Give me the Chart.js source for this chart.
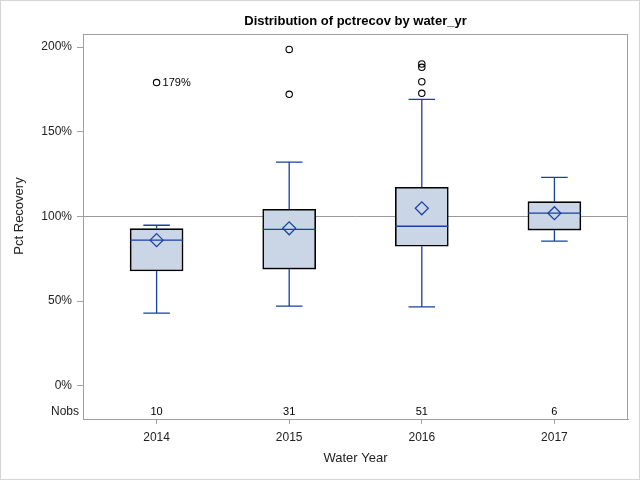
<!DOCTYPE html>
<html>
<head>
<meta charset="utf-8">
<script src="https://cdn.jsdelivr.net/npm/chart.js@4/dist/chart.umd.min.js"></script>
<style>
    html, body { margin: 0; padding: 0; background: #fff; }
    canvas { display: block; }
</style>
</head>
<body>
<canvas id="chart" width="640" height="480"></canvas>
<script>
// values (pct recovery, %)
const CATEGORIES = ['2014', '2015', '2016', '2017'];
const NOBS = [10, 31, 51, 6];
const WHISKER_LO = [42.9, 47.0, 46.6, 85.4];
const Q1 = [67.8, 68.9, 82.4, 91.9];
const MEDIAN = [86.0, 92.4, 94.2, 101.9];
const MEAN = [86.0, 93.0, 104.8, 101.9];
const Q3 = [92.8, 104.2, 117.2, 108.7];
const WHISKER_HI = [94.8, 132.0, 169.1, 123.1];
const OUTLIERS = [[179], [198.6, 172.1], [190.0, 188.0, 179.5, 172.7], []];
const LABELLED_OUTLIERS = [{ cat: 0, value: 179 }];
const Y_TICKS = [0, 50, 100, 150, 200];
const REF_VALUE = 100;

const BLUE = '#1740a3';
const FRAME = '#a0a0a0';
const TEXT = '#222';
const FONT = '"Liberation Sans", Arial, sans-serif';
const BOX_HALF = 0.2;
const CAP_HALF = 0.1;

const segments = [];
CATEGORIES.forEach((c, i) => {
    const gap = { x: i, y: null };
    segments.push({ x: i, y: Q3[i] }, { x: i, y: WHISKER_HI[i] }, gap);
    segments.push({ x: i - CAP_HALF, y: WHISKER_HI[i] }, { x: i + CAP_HALF, y: WHISKER_HI[i] }, gap);
    segments.push({ x: i, y: Q1[i] }, { x: i, y: WHISKER_LO[i] }, gap);
    segments.push({ x: i - CAP_HALF, y: WHISKER_LO[i] }, { x: i + CAP_HALF, y: WHISKER_LO[i] }, gap);
    segments.push({ x: i - BOX_HALF, y: MEDIAN[i] }, { x: i + BOX_HALF, y: MEDIAN[i] }, gap);
});

const outlierPoints = [];
OUTLIERS.forEach((list, i) => list.forEach((v) => outlierPoints.push({ x: i, y: v })));

const decorations = {
    id: 'decorations',
    beforeDraw(chart) {
        const { ctx, width, height } = chart;
        ctx.save();
        ctx.fillStyle = '#fff';
        ctx.fillRect(0, 0, width, height);
        ctx.strokeStyle = '#d4d4d4';
        ctx.lineWidth = 1;
        ctx.strokeRect(0.5, 0.5, width - 1, height - 1);
        ctx.restore();
    },
    beforeDatasetsDraw(chart) {
        const { ctx, chartArea: a, scales: { y } } = chart;
        const py = Math.round(y.getPixelForValue(REF_VALUE)) + 0.5;
        ctx.save();
        ctx.strokeStyle = '#9a9a9a';
        ctx.lineWidth = 1;
        ctx.beginPath();
        ctx.moveTo(a.left, py);
        ctx.lineTo(a.right, py);
        ctx.stroke();
        ctx.restore();
    },
    afterDraw(chart) {
        const { ctx, chartArea: a, scales: { x, y } } = chart;
        ctx.save();
        ctx.strokeStyle = FRAME;
        ctx.lineWidth = 1;
        ctx.strokeRect(a.left + 0.5, a.top + 0.5, a.right - a.left - 1, a.bottom - a.top);

        ctx.fillStyle = '#000';
        ctx.font = 'bold 13px ' + FONT;
        ctx.textAlign = 'center';
        ctx.textBaseline = 'middle';
        ctx.fillText('Distribution of pctrecov by water_yr', (a.left + a.right) / 2, 21);

        ctx.fillStyle = TEXT;
        ctx.font = '13px ' + FONT;
        ctx.save();
        ctx.translate(19, 216);
        ctx.rotate(-Math.PI / 2);
        ctx.fillText('Pct Recovery', 0, 0);
        ctx.restore();

        const nobsY = a.bottom - 7.5;
        ctx.font = '12px ' + FONT;
        ctx.textAlign = 'right';
        ctx.fillText('Nobs', a.left - 4, nobsY);
        ctx.font = '11px ' + FONT;
        ctx.textAlign = 'center';
        ctx.fillStyle = '#000';
        NOBS.forEach((n, i) => ctx.fillText(String(n), x.getPixelForValue(i), nobsY));

        ctx.textAlign = 'left';
        LABELLED_OUTLIERS.forEach((o) => {
            ctx.fillText(o.value + '%', x.getPixelForValue(o.cat) + 6, y.getPixelForValue(o.value));
        });
        ctx.restore();
    },
};

new Chart(document.getElementById('chart'), {
    type: 'scatter',
    data: {
        datasets: [
            {
                type: 'bar',
                data: CATEGORIES.map((c, i) => ({ x: i, y: [Q1[i], Q3[i]] })),
                backgroundColor: '#cad5e5',
                borderColor: '#000',
                borderWidth: 1.6,
                borderSkipped: false,
                barThickness: 53,
                grouped: false,
                order: 10,
            },
            {
                type: 'line',
                data: segments,
                borderColor: BLUE,
                borderWidth: 1.3,
                pointRadius: 0,
                spanGaps: false,
                tension: 0,
                order: 5,
            },
            {
                data: CATEGORIES.map((c, i) => ({ x: i, y: MEAN[i] })),
                pointStyle: 'rectRot',
                pointRadius: 6.5,
                borderColor: BLUE,
                backgroundColor: 'rgba(0,0,0,0)',
                borderWidth: 1.2,
                order: 1,
            },
            {
                data: outlierPoints,
                pointStyle: 'circle',
                pointRadius: 3.2,
                borderColor: '#000',
                backgroundColor: 'rgba(0,0,0,0)',
                borderWidth: 1.1,
                order: 0,
            },
        ],
    },
    options: {
        responsive: false,
        devicePixelRatio: 1,
        animation: false,
        layout: { padding: { top: 34, right: 12, left: 0, bottom: 0 } },
        plugins: {
            legend: { display: false },
            tooltip: { enabled: false },
            title: { display: false },
        },
        scales: {
            x: {
                type: 'linear',
                min: -0.555,
                max: 3.555,
                offset: false,
                afterBuildTicks: (s) => { s.ticks = CATEGORIES.map((c, i) => ({ value: i })); },
                afterFit: (s) => { s.height = 61; },
                ticks: {
                    callback: (v) => CATEGORIES[v],
                    autoSkip: false,
                    maxRotation: 0,
                    padding: 6,
                    color: TEXT,
                    font: { family: FONT, size: 12 },
                },
                grid: { drawOnChartArea: false, offset: false, tickLength: 5, color: FRAME },
                border: { color: FRAME },
                title: {
                    display: true,
                    text: 'Water Year',
                    color: TEXT,
                    font: { family: FONT, size: 13 },
                    padding: { top: 0, bottom: 14 },
                },
            },
            y: {
                min: -19.6,
                max: 207.7,
                afterBuildTicks: (s) => { s.ticks = Y_TICKS.map((v) => ({ value: v })); },
                afterFit: (s) => { s.width = 83; },
                ticks: {
                    callback: (v) => v + '%',
                    padding: 5,
                    color: TEXT,
                    font: { family: FONT, size: 12 },
                },
                grid: { drawOnChartArea: false, tickLength: 6, color: FRAME },
                border: { color: FRAME },
            },
        },
    },
    plugins: [decorations],
});
</script>
</body>
</html>
